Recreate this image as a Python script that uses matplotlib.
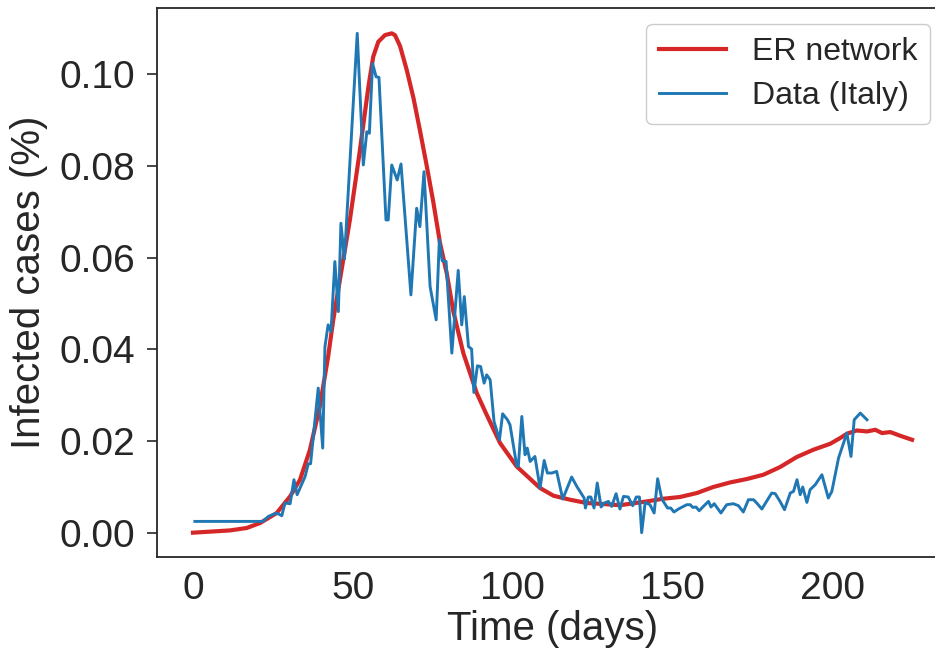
"""Infected cases: ER network model vs Italy data."""
import matplotlib
matplotlib.use("Agg")
import matplotlib.pyplot as plt

# ER network model (days, % infected)
model_days = [0, 11.6, 16.8, 21.0, 26.2, 30.4, 33.5, 36.6, 39.7, 42.3, 43.9,
              49.1, 52.1, 54.9, 56.4, 58.0, 60.1, 62.2, 63.2, 64.8, 66.9,
              69.0, 71.0, 73.1, 75.2, 77.3, 79.4, 81.5, 84.6, 88.8, 91.9,
              96.1, 101.3, 108.6, 112.8, 118.0, 123.2, 128.4, 133.6, 142.0,
              147.2, 152.4, 157.7, 162.8, 168.1, 173.3, 178.5, 183.7, 188.9,
              194.1, 199.4, 202.5, 204.6, 207.7, 210.9, 213.5, 215.6, 218.2,
              221.3, 225.0]
model_cases = [0.0, 0.0005, 0.00102, 0.00211, 0.00429, 0.00791, 0.01155,
               0.01808, 0.02752, 0.03841, 0.04641, 0.06819, 0.08272, 0.09723,
               0.10377, 0.10704, 0.10850, 0.10887, 0.10850, 0.10610, 0.10087,
               0.09477, 0.08780, 0.08017, 0.07211, 0.06318, 0.05658, 0.04815,
               0.03915, 0.03044, 0.02571, 0.01954, 0.01444, 0.00974, 0.00806,
               0.00719, 0.00647, 0.00625, 0.00599, 0.00682, 0.00741, 0.00778,
               0.00865, 0.00996, 0.01096, 0.01170, 0.01264, 0.01431, 0.01649,
               0.01808, 0.01939, 0.02063, 0.02157, 0.02229, 0.02207, 0.02244,
               0.02172, 0.02194, 0.02113, 0.02026]

# Italy data (days, % infected)
data_days = [0.6, 21.9, 23.6, 26.2, 27.8, 28.8, 30.4, 31.6, 32.6, 35.1, 36.1,
             36.8, 39.2, 40.6, 41.3, 42.3, 43.2, 44.4, 45.5, 46.3, 47.4, 51.4,
             53.3, 54.4, 55.2, 56.2, 57.3, 58.2, 60.4, 61.1, 62.2, 63.9, 65.1,
             68.2, 70.0, 71.0, 72.3, 74.2, 76.1, 77.1, 78.0, 79.2, 81.0, 83.0,
             84.1, 84.9, 86.2, 87.2, 87.9, 89.0, 90.0, 91.1, 91.9, 93.0, 94.2,
             95.9, 96.9, 98.4, 99.2, 101.3, 101.8, 102.9, 103.9, 104.6, 105.5,
             107.0, 108.6, 109.9, 110.9, 112.3, 113.8, 115.7, 118.5, 120.1,
             122.4, 122.8, 123.7, 124.5, 125.5, 126.5, 127.7, 128.7, 130.0,
             131.0, 132.4, 133.6, 134.7, 136.2, 137.6, 138.7, 139.7, 140.4,
             141.5, 143.0, 144.3, 145.4, 146.7, 148.5, 149.5, 150.5, 151.9,
             154.5, 155.6, 156.4, 157.4, 158.4, 159.7, 161.3, 162.1, 163.1,
             165.2, 167.0, 169.1, 170.7, 172.2, 173.8, 175.4, 176.4, 178.0,
             181.1, 182.2, 183.7, 185.1, 186.9, 187.9, 189.0, 190.0, 190.8,
             192.1, 193.1, 194.7, 196.8, 198.8, 199.9, 202.0, 204.6, 205.9,
             206.9, 208.8, 210.9]
data_cases = [0.00246, 0.00246, 0.00355, 0.00429, 0.00370, 0.00647, 0.00632,
              0.01155, 0.00828, 0.01227, 0.01503, 0.01503, 0.03153, 0.01845,
              0.04059, 0.04532, 0.04386, 0.05911, 0.04821, 0.06747, 0.05969,
              0.10887, 0.08017, 0.08743, 0.08708, 0.10233, 0.09941, 0.09928,
              0.06819, 0.06819, 0.08017, 0.07691, 0.08039, 0.05185, 0.07074,
              0.06673, 0.07871, 0.05366, 0.04641, 0.06383, 0.05926, 0.05915,
              0.03915, 0.05719, 0.04532, 0.05148, 0.04059, 0.04002, 0.03057,
              0.03638, 0.03623, 0.03261, 0.03442, 0.03333, 0.02425, 0.02026,
              0.02593, 0.02462, 0.02353, 0.01460, 0.01444, 0.02534, 0.01699,
              0.01845, 0.01553, 0.01662, 0.00974, 0.01575, 0.01301, 0.01301,
              0.01336, 0.00734, 0.01214, 0.01009, 0.00756, 0.00538, 0.00778,
              0.00778, 0.00538, 0.01083, 0.00560, 0.00647, 0.00682, 0.00573,
              0.00850, 0.00516, 0.00791, 0.00778, 0.00588, 0.00778, 0.00778,
              0.0, 0.00660, 0.00610, 0.00429, 0.01176, 0.00734, 0.00538,
              0.00538, 0.00451, 0.00516, 0.00610, 0.00610, 0.00551, 0.00560,
              0.00479, 0.00573, 0.00682, 0.00560, 0.00632, 0.00429, 0.00610,
              0.00632, 0.00588, 0.00451, 0.00719, 0.00719, 0.00647, 0.00516,
              0.00865, 0.00850, 0.00682, 0.00501, 0.00865, 0.00900, 0.01155,
              0.00828, 0.00996, 0.00660, 0.00937, 0.01046, 0.01264, 0.00756,
              0.00900, 0.01627, 0.02172, 0.01662, 0.02462, 0.02608, 0.02462]

DARK = "#262626"
plt.rcParams["font.family"] = ["Liberation Sans", "DejaVu Sans"]
plt.rcParams["text.color"] = DARK
plt.rcParams["axes.labelcolor"] = DARK

fig = plt.figure(figsize=(9.35, 6.52), dpi=100)
ax = fig.add_axes([157 / 935, 95 / 652, 791 / 935, 549 / 652])

ax.plot(model_days, model_cases, color="#d62728", lw=3, label="ER network")
ax.plot(data_days, data_cases, color="#1f77b4", lw=2.1, label="Data (Italy)")

ax.set_xlim(-11.25, 236.25)
ax.set_ylim(-0.0053, 0.1144)
ax.set_xticks([0, 50, 100, 150, 200])
ax.set_yticks([0.0, 0.02, 0.04, 0.06, 0.08, 0.10])
ax.set_yticklabels([f"{v:.2f}" for v in ax.get_yticks()])
ax.tick_params(axis="x", length=0, pad=10, labelsize=28, colors=DARK)
ax.tick_params(axis="y", length=7, width=1.2, pad=9, labelsize=28,
               colors=DARK)
for s in ax.spines.values():
    s.set_color(DARK)
    s.set_linewidth(1.3)

ax.set_xlabel("Time (days)", fontsize=29, labelpad=2)
ax.set_ylabel("Infected cases (%)", fontsize=29, labelpad=8)

leg = ax.legend(loc="upper right", bbox_to_anchor=(930 / 935, 1 - 24 / 652),
                bbox_transform=fig.transFigure, borderaxespad=0,
                fontsize=23, fancybox=True, framealpha=1,
                handlelength=2.1, handletextpad=0.8, labelspacing=0.45)
leg.get_frame().set_edgecolor("#cccccc")
for t in leg.get_texts():
    t.set_color(DARK)

fig.savefig("out.png", dpi=100)
